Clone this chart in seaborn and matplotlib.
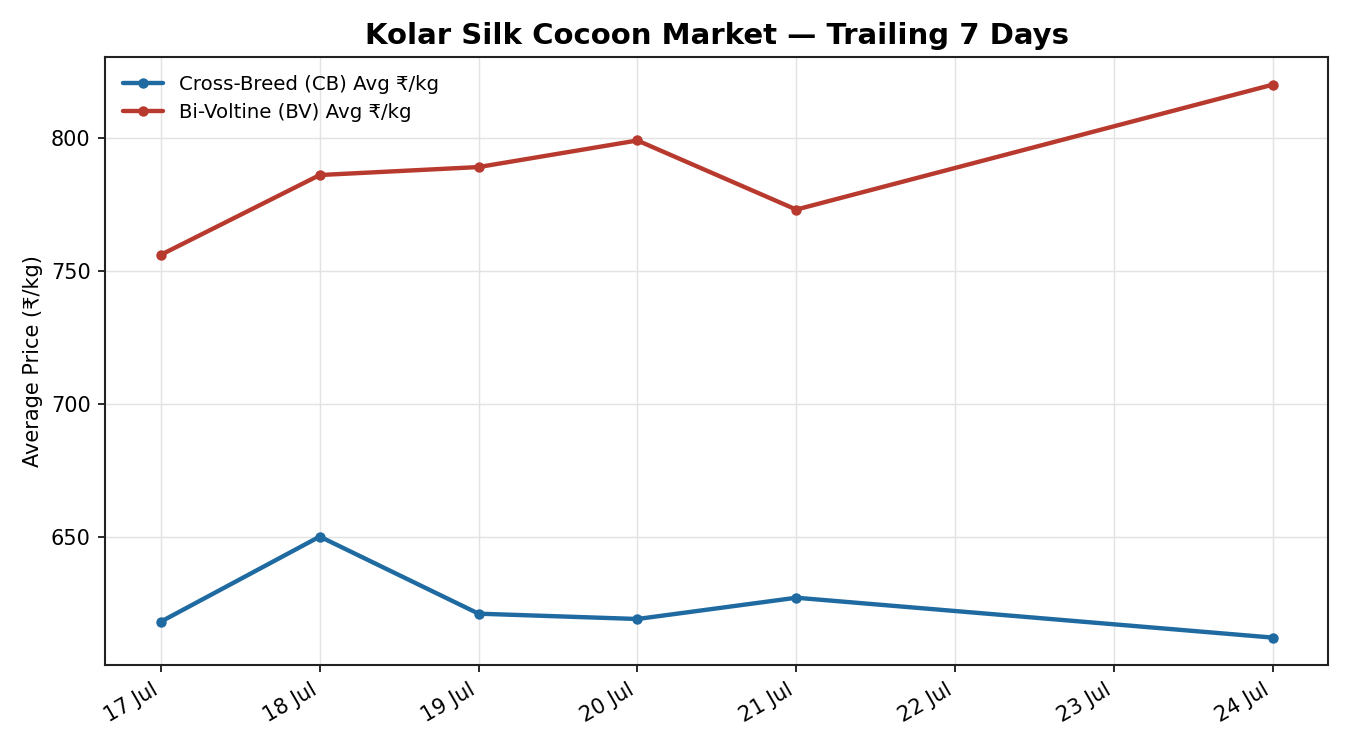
import pandas as pd
import seaborn as sns
import matplotlib.pyplot as plt
import matplotlib.dates as mdates

# -----------------------------
# DATA
# -----------------------------
dates = ["2024-07-17", "2024-07-18", "2024-07-19", "2024-07-20", "2024-07-21", "2024-07-24"]
cb_price = [618, 650, 621, 619, 627, 612]
bv_price = [756, 786, 789, 799, 773, 820]
series_names = ["Cross-Breed (CB) Avg ₹/kg", "Bi-Voltine (BV) Avg ₹/kg"]
colors = ["#1f6aa0", "#b83a2e"]

df = pd.DataFrame({
    "Date": pd.to_datetime(dates * 2),
    "Price": cb_price + bv_price,
    "Series": [series_names[0]] * len(dates) + [series_names[1]] * len(dates),
})

# -----------------------------
# PLOT
# -----------------------------
sns.set_style("ticks")
plt.rcParams["font.family"] = ["DejaVu Sans"]
plt.rcParams["text.color"] = "black"
plt.rcParams["axes.labelcolor"] = "black"
plt.rcParams["xtick.color"] = "black"
plt.rcParams["ytick.color"] = "black"

fig, ax = plt.subplots(figsize=(9, 5), dpi=150)
fig.subplots_adjust(left=0.078, right=0.984, top=0.924, bottom=0.113)

sns.lineplot(data=df, x="Date", y="Price", hue="Series", palette=colors,
             marker="o", markersize=5, markeredgewidth=0, linewidth=2.1, ax=ax)

ax.set_title("Kolar Silk Cocoon Market — Trailing 7 Days", fontsize=14, fontweight="bold")
ax.set_xlabel("")
ax.set_ylabel("Average Price (₹/kg)", fontsize=10)
ax.grid(True, color="#e3e3e3", linewidth=0.7)
ax.set_axisbelow(True)

ax.xaxis.set_major_locator(mdates.DayLocator())
ax.xaxis.set_major_formatter(mdates.DateFormatter("%d %b"))
ax.set_yticks([650, 700, 750, 800])
ax.tick_params(axis="both", labelsize=10, color="#222222", length=3.5, width=0.9)
for lbl in ax.get_xticklabels():
    lbl.set_rotation(30)
    lbl.set_ha("right")

for s in ax.spines.values():
    s.set_color("#222222")
    s.set_linewidth(1.0)

leg = ax.legend(loc="upper left", frameon=False, fontsize=9.5, labelspacing=0.45)

plt.savefig("out.png", dpi=150)
